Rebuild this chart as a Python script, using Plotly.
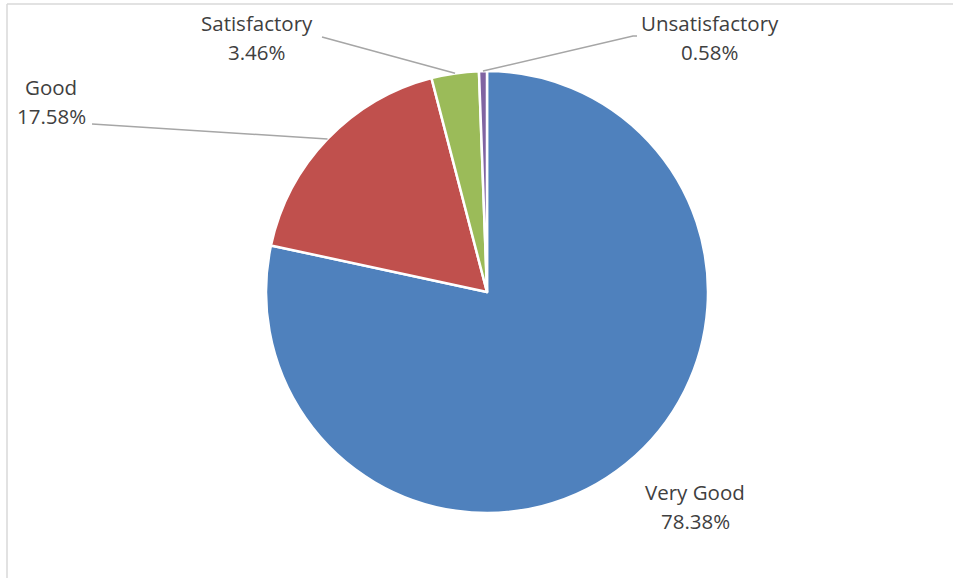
import math
import plotly.graph_objects as go

# Data
labels = ["Very Good", "Good", "Satisfactory", "Unsatisfactory"]
values = [78.38, 17.58, 3.46, 0.58]
colors = ["#4F81BD", "#C0504D", "#9BBB59", "#8064A2"]

W, H = 953, 578
cx, cy, r = 487, 292, 221  # pie centre / radius in pixels

def px(x):
    return x / W

def py(y):
    return 1 - y / H

fig = go.Figure()
fig.add_trace(go.Pie(
    labels=labels, values=values, sort=False, direction="clockwise", rotation=0,
    marker=dict(colors=colors, line=dict(color="white", width=2.5)),
    textinfo="none", hoverinfo="label+percent", showlegend=False,
    domain=dict(x=[px(cx - r), px(cx + r)], y=[py(cy + r), py(cy - r)]),
))

# label text positions (pixels) and leader-line end points
label_pos = {
    "Very Good": (695, 492, None),
    "Good": (51, 87, [(92, 124)]),
    "Satisfactory": (257, 23, [(322, 37)]),
    "Unsatisfactory": (710, 23, [(637, 36), (633, 36)]),
}

total = sum(values)
cum = 0
font = dict(family="Open Sans, Calibri, sans-serif", size=20.5, color="#404040")
for lab, v in zip(labels, values):
    mid = (cum + v / 2) / total * 2 * math.pi
    cum += v
    ex = cx + r * math.sin(mid)
    ey = cy - r * math.cos(mid)
    tx, ty, pts = label_pos[lab]
    fig.add_annotation(x=px(tx), y=py(ty), xref="paper", yref="paper", text=lab,
                       showarrow=False, font=font, xanchor="center", yanchor="middle")
    fig.add_annotation(x=px(tx), y=py(ty + 29), xref="paper", yref="paper",
                       text=f"{v:.2f}%", showarrow=False, font=font,
                       xanchor="center", yanchor="middle")
    if pts:
        path = f"M {px(ex)},{py(ey)}"
        for (lx, ly) in reversed(pts):
            path += f" L {px(lx)},{py(ly)}"
        fig.add_shape(type="path", path=path, xref="paper", yref="paper",
                      line=dict(color="#A6A6A6", width=1.5))

# chart-area border (top and left edges visible)
fig.add_shape(type="line", xref="paper", yref="paper", x0=px(7), x1=1.01, y0=py(4), y1=py(4),
              line=dict(color="#D9D9D9", width=1.5))
fig.add_shape(type="line", xref="paper", yref="paper", x0=px(7), x1=px(7), y0=py(4), y1=-0.01,
              line=dict(color="#D9D9D9", width=1.5))

fig.update_layout(width=W, height=H, margin=dict(l=0, r=0, t=0, b=0),
                  paper_bgcolor="white", plot_bgcolor="white")
fig.write_html("out.html", config={"displayModeBar": False},
               post_script="document.body.style.margin='0';")
